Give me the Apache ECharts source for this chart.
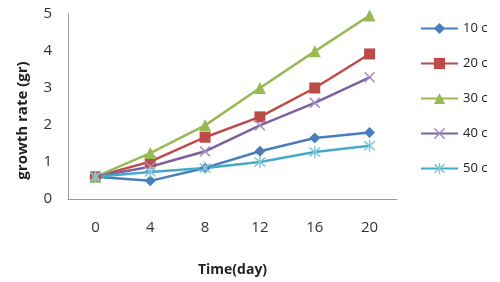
<!DOCTYPE html>
<html>
<head>
<meta charset="utf-8">
<script src="https://cdn.jsdelivr.net/npm/echarts@6/dist/echarts.min.js"></script>
<style>
html, body { margin: 0; padding: 0; background: #fff; }
#chart { width: 500px; height: 282px; }
</style>
</head>
<body>
<div id="chart"></div>
<script>
var days = ['0', '4', '8', '12', '16', '20'];
var names = ['10 c', '20 c', '30 c', '40 c', '50 c'];
var c10 = [0.6, 0.49, 0.84, 1.29, 1.65, 1.8];
var c20 = [0.6, 1.01, 1.67, 2.22, 3.0, 3.92];
var c30 = [0.6, 1.24, 1.99, 3.0, 3.99, 4.96];
var c40 = [0.6, 0.87, 1.29, 1.99, 2.6, 3.29];
var c50 = [0.6, 0.73, 0.84, 1.0, 1.27, 1.44];

var colors = ['#4a7ebb', '#be4b48', '#98b954', '#7d60a0', '#46aac5'];
var xMark = 'path://M0,1L1,0L5,4L9,0L10,1L6,5L10,9L9,10L5,6L1,10L0,9L4,5Z';
var star = 'path://M0,1L1,0L5,4L9,0L10,1L6,5L10,9L9,10L5,6L1,10L0,9L4,5Z M4.4,-1L5.6,-1L5.6,11L4.4,11Z';
var symbols = ['diamond', 'rect', 'triangle', xMark, star];
var sizes = [11, 11, 12, 11, 12];
var symbolColors = ['#4a7ebb', '#be4b48', '#98b954', '#a08cc4', '#7fc8dc'];
var values = [c10, c20, c30, c40, c50];

var myChart = echarts.init(document.getElementById('chart'));

var series = [];
for (var i = 0; i < names.length; i++) {
	series.push({
		name: names[i],
		type: 'line',
		data: values[i],
		symbol: symbols[i],
		symbolSize: sizes[i],
		color: colors[i],
		lineStyle: { width: 2.5, color: colors[i] },
		itemStyle: { color: symbolColors[i] },
		emphasis: { disabled: true },
		animation: false
	});
}

var option = {
	backgroundColor: '#fff',
	textStyle: { fontFamily: 'Open Sans' },
	grid: { left: 68, right: 103, top: 14, bottom: 81 },
	legend: {
		orient: 'vertical',
		left: 420,
		top: 22,
		padding: 0,
		itemGap: 22,
		itemWidth: 37,
		itemHeight: 14,
		textStyle: { fontSize: 13, color: '#222', fontFamily: 'Open Sans' },
		data: names
	},
	xAxis: {
		type: 'category',
		data: days,
		boundaryGap: true,
		name: 'Time(day)',
		nameLocation: 'middle',
		nameGap: 64,
		nameTextStyle: { fontSize: 14, fontWeight: 'bold', color: '#222' },
		axisLine: { lineStyle: { color: '#999', width: 1 } },
		axisTick: { show: false },
		axisLabel: { fontSize: 15, color: '#333', margin: 21 },
		splitLine: { show: false }
	},
	yAxis: {
		type: 'value',
		min: 0,
		max: 5,
		interval: 1,
		name: 'growth rate (gr)',
		nameLocation: 'middle',
		nameGap: 38,
		nameTextStyle: { fontSize: 15, fontWeight: 'bold', color: '#222', padding: [0, 28, 0, 0] },
		axisLine: { show: true, lineStyle: { color: '#999', width: 1 } },
		axisTick: { show: false },
		axisLabel: { fontSize: 15, color: '#333', margin: 16 },
		splitLine: { show: false }
	},
	series: series
};

myChart.setOption(option);
</script>
</body>
</html>
